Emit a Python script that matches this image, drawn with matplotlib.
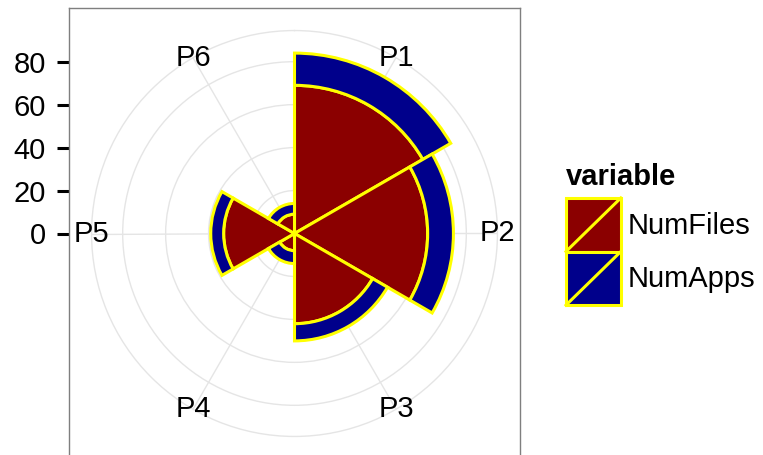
"""Polar stacked bars (ggplot coord_polar look) with a square panel frame."""
import numpy as np
import matplotlib
matplotlib.use("Agg")
import matplotlib.pyplot as plt
from matplotlib.patches import Patch, Rectangle
from matplotlib.lines import Line2D
from matplotlib.legend_handler import HandlerBase

# ---------- data ----------
categories = ["P1", "P2", "P3", "P4", "P5", "P6"]
num_files = [69, 62, 42, 8, 33, 9]
num_apps = [15, 12, 8, 6, 6, 5]
series_names = ["NumFiles", "NumApps"]
r_ticks = [0, 20, 40, 60, 80]

# ---------- style ----------
_RED = "#8B0000"
_BLUE = "#00008B"
_EDGE = "#FFFF00"
_GRID = "#E5E5E5"
_BORDER = "#7F7F7F"
_FONT = "Liberation Sans"

W_PX, H_PX, DPI = 763, 455, 100
plt.rcParams["font.family"] = [_FONT, "DejaVu Sans"]


class SlashKey(HandlerBase):
    """Filled key with an outline and a diagonal stroke, like old ggplot bars."""
    def create_artists(self, legend, orig_handle, xdescent, ydescent,
                       width, height, fontsize, trans):
        x0, y0 = -xdescent, -ydescent
        rect = Rectangle((x0, y0), width, height, transform=trans,
                         facecolor=orig_handle.get_facecolor(),
                         edgecolor=orig_handle.get_edgecolor(), linewidth=2.2)
        line = Line2D([x0, x0 + width], [y0, y0 + height], transform=trans,
                      color=orig_handle.get_edgecolor(), linewidth=2.2)
        return [rect, line]


fig = plt.figure(figsize=(W_PX / DPI, H_PX / DPI), dpi=DPI)
fig.patch.set_facecolor("white")

# Square panel: 451 px wide, top at 8 px; bottom runs off the canvas.
pw, top = 451, 8
L, B = 69 / W_PX, (H_PX - top - pw) / H_PX
Wf, Hf = pw / W_PX, pw / H_PX

totals = np.array(num_files) + np.array(num_apps)
rmax = totals.max()
half = 1.25 * rmax  # data range fills 0.4 of panel width

frame = fig.add_axes((L, B, Wf, Hf))
frame.set_xlim(-half, half)
frame.set_ylim(-half, half)
frame.set_xticks([])
frame.set_yticks(r_ticks)
frame.tick_params(axis="y", length=8.5, width=2.2, pad=8, labelsize=21,
                  color="black", labelcolor="black")
for sp in frame.spines.values():
    sp.set_color(_BORDER)
    sp.set_linewidth(1.0)
frame.set_facecolor("white")

# Polar axes spans 0.9 of panel (outer circle at 0.45).
pax = fig.add_axes((L + 0.05 * Wf, B + 0.05 * Hf, 0.9 * Wf, 0.9 * Hf),
                   projection="polar")
pax.patch.set_alpha(0)
pax.set_theta_zero_location("N")
pax.set_theta_direction(-1)
pax.set_rlim(0, 1.125 * rmax)
pax.set_axisbelow(True)

n = len(categories)
width = 2 * np.pi / n
theta = (np.arange(n) + 0.5) * width

pax.bar(theta, num_files, width=width, bottom=0, color=_RED,
        edgecolor=_EDGE, linewidth=2.2)
pax.bar(theta, num_apps, width=width, bottom=num_files, color=_BLUE,
        edgecolor=_EDGE, linewidth=2.2)

pax.set_rticks(r_ticks[1:])
pax.set_yticklabels([])
pax.set_xticks(theta)
pax.set_xticklabels([])
pax.grid(True, color=_GRID, linewidth=1.0)
pax.spines["polar"].set_color(_GRID)
pax.spines["polar"].set_linewidth(1.0)
pax.tick_params(length=0)

for t, lab in zip(theta, categories):
    pax.text(t, 1.125 * rmax, lab, ha="center", va="center", fontsize=21,
             clip_on=False)

handles = [Patch(facecolor=_RED, edgecolor=_EDGE),
           Patch(facecolor=_BLUE, edgecolor=_EDGE)]
leg = fig.legend(handles, series_names, title="variable",
                 handler_map={Patch: SlashKey()},
                 loc="upper left", bbox_to_anchor=(566 / W_PX, 1 - 163 / H_PX),
                 frameon=False, fontsize=21,
                 title_fontproperties={"size": 21, "weight": "bold"},
                 handlelength=1.88, handleheight=2.45, labelspacing=0.0,
                 handletextpad=0.25, alignment="left", borderpad=0.0,
                 borderaxespad=0.0)
leg._legend_box.sep = 5  # small gap between title and keys

fig.savefig("out.png", dpi=DPI, facecolor="white")
